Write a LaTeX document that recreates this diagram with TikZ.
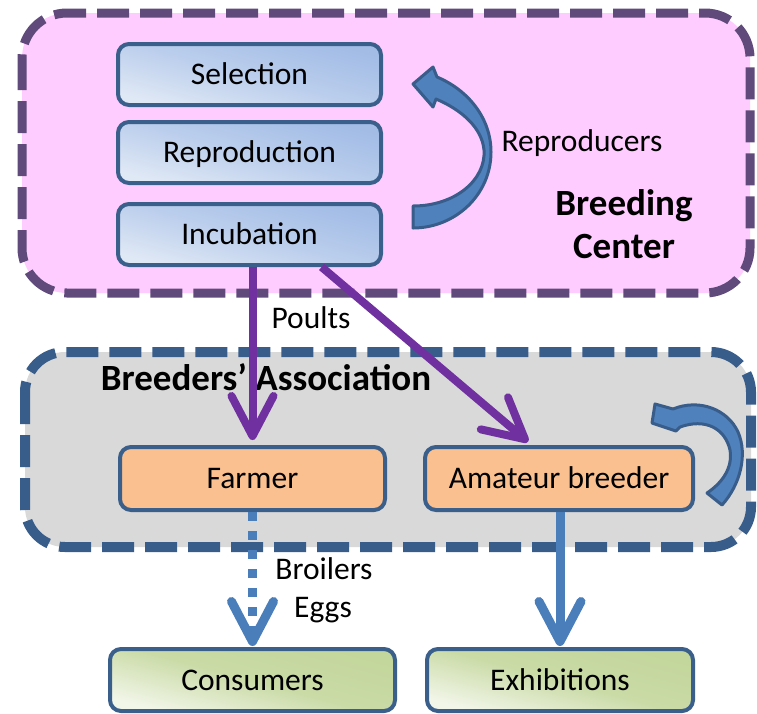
\documentclass[tikz,border=0pt]{standalone}
\usepackage{fontspec}
\setmainfont{Carlito}
\usetikzlibrary{arrows.meta,calc}
\definecolor{pinkfill}{HTML}{FFCCFF}
\definecolor{pinkborder}{HTML}{604A7B}
\definecolor{grayfill}{HTML}{D9D9D9}
\definecolor{grayborder}{HTML}{385D8A}
\definecolor{boxborder}{HTML}{3A5F8B}
\definecolor{bluedark}{HTML}{A2BCE6}
\definecolor{bluelight}{HTML}{DFE8F5}
\definecolor{orangefill}{HTML}{FAC090}
\definecolor{greendark}{HTML}{C3D69B}
\definecolor{greenlight}{HTML}{F2F6E9}
\definecolor{arrowpurple}{HTML}{7030A0}
\definecolor{arrowblue}{HTML}{4A7EBB}
\definecolor{curvefill}{HTML}{4F81BD}
\definecolor{curveborder}{HTML}{385D8A}
\begin{document}
\begin{tikzpicture}[x=1pt,y=-1pt,
  every node/.style={inner sep=0pt,outer sep=0pt},
  regtext/.style={font=\fontsize{31.5}{38}\selectfont},
  boldtext/.style={font=\fontsize{37}{43}\selectfont\bfseries},
  stagebox/.style={regtext,draw=boxborder,line width=4pt,rounded corners=11pt,
    text height=20.3pt,text depth=0pt,outer sep=2pt},
  bluebox/.style={stagebox,minimum width=263pt,minimum height=61pt,
    top color=bluedark,bottom color=bluelight,middle color=bluedark!60!bluelight,shading angle=-15},
  orangebox/.style={stagebox,fill=orangefill,minimum height=63pt},
  greenbox/.style={stagebox,minimum height=62pt,
    top color=greendark,bottom color=greenlight,middle color=greendark!85!greenlight,shading angle=-15},
  container/.style={line width=9pt,dash pattern=on 32pt off 11pt},
  parrow/.style={draw=arrowpurple,line width=8pt,
    -{Straight Barb[length=40pt,width=42pt,round]}},
  barrow/.style={draw=arrowblue,line width=9pt,
    -{Straight Barb[length=40pt,width=42pt,round]}},
  curvearrow/.style={fill=curvefill,draw=curveborder,line width=3pt,line join=round},
]
\useasboundingbox (0,0) rectangle (757,713);

% containers
\draw[container,draw=pinkborder,fill=pinkfill,rounded corners=45pt] (22,13) rectangle (750,293);
\draw[container,draw=grayborder,fill=grayfill,rounded corners=40pt,line width=10pt] (25,352) rectangle (751,547);

% stage boxes
\node[bluebox] (sel) at (249.5,74.5) {Selection};
\node[bluebox] (repro) at (249.5,152.5) {Reproduction};
\node[bluebox] (incub) at (249.5,234.5) {Incubation};
\node[orangebox,minimum width=265pt] (farmer) at (252.5,478.5) {Farmer};
\node[orangebox,minimum width=268pt] (amateur) at (559,478.5) {Amateur breeder};
\node[greenbox,minimum width=285pt] (consumers) at (252.5,680) {Consumers};
\node[greenbox,minimum width=266pt] (exhib) at (560,680) {Exhibitions};

% labels
\node[regtext,anchor=base] (reprolabel) at (582,151) {Reproducers};
\node[boldtext,anchor=base] (bc1) at (624,215) {Breeding};
\node[boldtext,anchor=base] (bc2) at (624,258) {Center};
\node[boldtext,anchor=base] (ba) at (266,390) {Breeders’ Association};
\node[regtext,anchor=base] (poults) at (311,328) {Poults};
\node[regtext,anchor=base] (broilers) at (324,579) {Broilers};
\node[regtext,anchor=base] (eggs) at (323,617) {Eggs};

% curved arrows
\draw[curvearrow] (413,228) .. controls (455,228) and (491,195) .. (491,152)
  .. controls (491,118) and (468,90) .. (437,77) -- (433,67) -- (413,84) -- (433,107) -- (436,99)
  .. controls (462,110) and (482,128) .. (484,150)
  .. controls (486,180) and (455,206) .. (413,206) -- cycle;
\draw[curvearrow] (722,505) .. controls (740,485) and (748,455) .. (738,432)
  .. controls (728,410) and (700,398) .. (673,409) -- (655,404) -- (652,423) -- (676,431) -- (680,427)
  .. controls (705,418) and (725,428) .. (730,450)
  .. controls (733,468) and (722,483) .. (707,493) -- cycle;

% connectors
\draw[parrow,shorten >=5pt] (farmer.north |- incub.south) -- (farmer.north);
\draw[parrow,shorten >=5pt] ($(incub.south west)!0.77!(incub.south east)$) -- ($(amateur.north west)!0.40!(amateur.north east)$);
\draw[barrow,dash pattern=on 9pt off 10pt,shorten >=1pt] (farmer.south) -- (consumers.north);
\draw[barrow,shorten >=1pt] (exhib.north |- amateur.south) -- (exhib.north);
\end{tikzpicture}
\end{document}
